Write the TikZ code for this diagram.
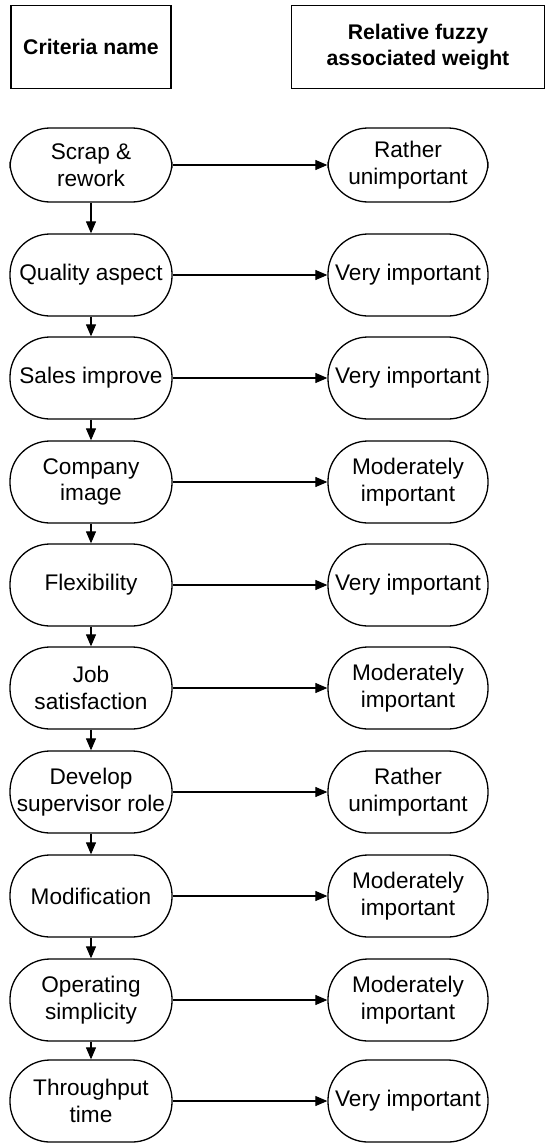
\documentclass[tikz,border=0pt]{standalone}
\usepackage{fontspec}
\setmainfont{Liberation Sans}
\usetikzlibrary{arrows.meta,positioning}

\begin{document}
\begin{tikzpicture}[
  x=0.5pt, y=-0.5pt,
  every node/.style={font=\fontsize{11.3}{13.4}\selectfont, inner sep=1pt},
  head/.style ={draw, line width=0.6pt, minimum width=80pt, minimum height=41.5pt,
                align=center, font=\fontsize{10.6}{12.6}\selectfont\bfseries},
  crit/.style ={draw, line width=0.65pt, rounded corners=20pt, minimum width=81pt,
                minimum height=41pt, align=center},
  wgt/.style  ={crit, minimum width=80pt},
  flow/.style ={-{Triangle[length=6pt,width=5pt]}, line width=0.55pt}]

\useasboundingbox (0,0) rectangle (545,1145);

\node[head] (hcrit) at (91,47) {Criteria name};
\node[head, minimum width=126.5pt] (hwgt) at (418,47) {Relative fuzzy\\associated weight};

% criteria column
\node[crit, minimum height=37pt] (scrap) at (91,165) {Scrap \&\\rework};
\node[crit] (qual)  at (91,275)  {Quality aspect};
\node[crit] (sales) at (91,378)  {Sales improve};
\node[crit] (comp)  at (91,482)  {Company\\image};
\node[crit] (flex)  at (91,585)  {Flexibility};
\node[crit] (job)   at (91,688)  {Job\\satisfaction};
\node[crit] (dev)   at (91,792)  {Develop\\supervisor role};
\node[crit] (modif) at (91,896)  {Modification};
\node[crit] (oper)  at (91,1000) {Operating\\simplicity};
\node[crit] (thru)  at (91,1101) {Throughput\\time};

% weights column
\node[wgt, minimum height=37pt] (wscrap) at (408,165) {Rather\\unimportant};
\node[wgt] (wqual)  at (408,275)  {Very important};
\node[wgt] (wsales) at (408,378)  {Very important};
\node[wgt] (wcomp)  at (408,482)  {Moderately\\important};
\node[wgt] (wflex)  at (408,585)  {Very important};
\node[wgt] (wjob)   at (408,688)  {Moderately\\important};
\node[wgt] (wdev)   at (408,792)  {Rather\\unimportant};
\node[wgt] (wmodif) at (408,896)  {Moderately\\important};
\node[wgt] (woper)  at (408,1000) {Moderately\\important};
\node[wgt] (wthru)  at (408,1101) {Very important};

% chain of criteria
\draw[flow] (scrap) -- (qual);
\draw[flow] (qual)  -- (sales);
\draw[flow] (sales) -- (comp);
\draw[flow] (comp)  -- (flex);
\draw[flow] (flex)  -- (job);
\draw[flow] (job)   -- (dev);
\draw[flow] (dev)   -- (modif);
\draw[flow] (modif) -- (oper);
\draw[flow] (oper)  -- (thru);

% each criterion to its weight
\draw[flow] (scrap) -- (wscrap);
\draw[flow] (qual)  -- (wqual);
\draw[flow] (sales) -- (wsales);
\draw[flow] (comp)  -- (wcomp);
\draw[flow] (flex)  -- (wflex);
\draw[flow] (job)   -- (wjob);
\draw[flow] (dev)   -- (wdev);
\draw[flow] (modif) -- (wmodif);
\draw[flow] (oper)  -- (woper);
\draw[flow] (thru)  -- (wthru);

\end{tikzpicture}
\end{document}
